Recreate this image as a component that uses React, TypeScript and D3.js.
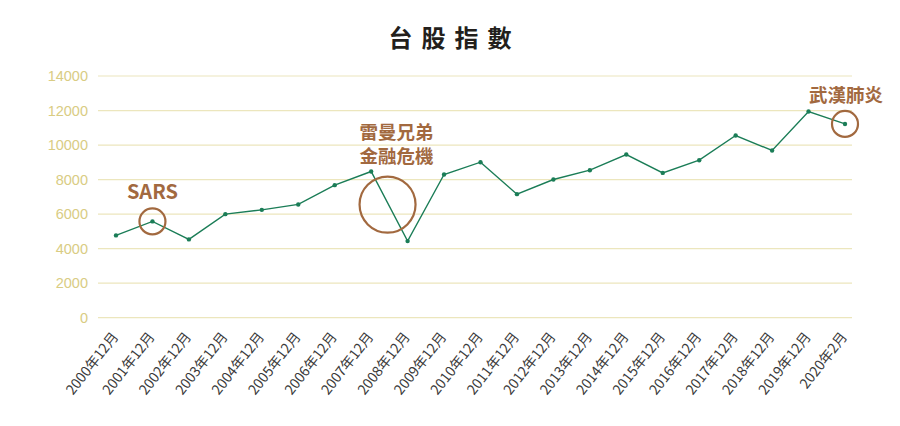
import * as d3 from "d3";

const periods = [
  "2000年12月", "2001年12月", "2002年12月", "2003年12月", "2004年12月", "2005年12月",
  "2006年12月", "2007年12月", "2008年12月", "2009年12月", "2010年12月", "2011年12月",
  "2012年12月", "2013年12月", "2014年12月", "2015年12月", "2016年12月", "2017年12月",
  "2018年12月", "2019年12月", "2020年2月",
];

const indexValues = [
  4767, 5577, 4535, 5999, 6248, 6560, 7677, 8469, 4437, 8296, 9007,
  7156, 8006, 8545, 9453, 8388, 9123, 10552, 9684, 11940, 11223,
];

const yTicks = [0, 2000, 4000, 6000, 8000, 10000, 12000, 14000];

// annotation anchor: position on the period axis (index) and index value
const events = [
  { lines: ["SARS"], at: 1, value: 5577, radius: 13, textDy: -29, size: 20, shift: 0 },
  { lines: ["雷曼兄弟", "金融危機"], at: 7.45, value: 6550, radius: 28, textDy: -72, size: 18.5, shift: 9 },
  { lines: ["武漢肺炎"], at: 20, value: 11223, radius: 13, textDy: -28, size: 18.5, shift: 1 },
];

const WIDTH = 900;
const HEIGHT = 426;
const MARGIN = { top: 76, right: 48, bottom: 108, left: 98 };

const GREEN = "#1b7d57";
const BROWN = "#a2693f";
const CJK = '"Noto Sans CJK TC", "Liberation Sans", sans-serif';

export default function App() {
  const x = d3
    .scaleLinear()
    .domain([0, periods.length - 1])
    .range([116, 845]);
  const y = d3
    .scaleLinear()
    .domain([0, 14000])
    .range([HEIGHT - MARGIN.bottom - 0.3, MARGIN.top]);
  const line = d3
    .line<number>()
    .x((_, i) => x(i))
    .y((v) => y(v));

  return (
    <svg
      width={WIDTH}
      height={HEIGHT}
      viewBox={`0 0 ${WIDTH} ${HEIGHT}`}
      style={{ position: "absolute", left: 0, top: 0, display: "block", background: "#fff" }}
    >
      <rect width={WIDTH} height={HEIGHT} fill="#fff" />
      <text
        x={WIDTH / 2 + 4.5}
        y={47}
        textAnchor="middle"
        fontFamily={CJK}
        fontWeight="700"
        fontSize="24"
        letterSpacing="9"
        fill="#231f1c"
      >
        台股指數
      </text>

      {yTicks.map((tick) => (
        <g key={tick}>
          <line x1={MARGIN.left} x2={WIDTH - MARGIN.right} y1={y(tick)} y2={y(tick)} stroke="#ece6bd" strokeWidth="1.2" />
          <text
            x={88}
            y={y(tick)}
            dy="0.35em"
            textAnchor="end"
            fontFamily='"Liberation Sans", sans-serif'
            fontSize="14.5"
            fill="#d9cc83"
          >
            {tick}
          </text>
        </g>
      ))}

      {periods.map((label, i) => (
        <text
          key={label}
          transform={`translate(${x(i) + 3} ${337}) rotate(-52)`}
          textAnchor="end"
          fontFamily={CJK}
          fontSize="14"
          fill="#3a3a3a"
        >
          {label}
        </text>
      ))}

      <path d={line(indexValues) ?? undefined} fill="none" stroke={GREEN} strokeWidth="1.4" />
      {indexValues.map((v, i) => (
        <circle key={i} cx={x(i)} cy={y(v)} r="2.2" fill={GREEN} />
      ))}

      {events.map((ev) => {
        const cx = x(ev.at);
        const cy = y(ev.value);
        return (
          <g key={ev.lines[0]}>
            <circle cx={cx} cy={cy} r={ev.radius} fill="none" stroke={BROWN} strokeWidth="2.2" />
            {ev.lines.map((t, k) => (
              <text
                key={t}
                x={cx + ev.shift}
                y={cy + ev.textDy + k * 24}
                dy="0.35em"
                textAnchor="middle"
                fontFamily={CJK}
                fontWeight="700"
                fontSize={ev.size}
                fill={BROWN}
              >
                {t}
              </text>
            ))}
          </g>
        );
      })}
    </svg>
  );
}
